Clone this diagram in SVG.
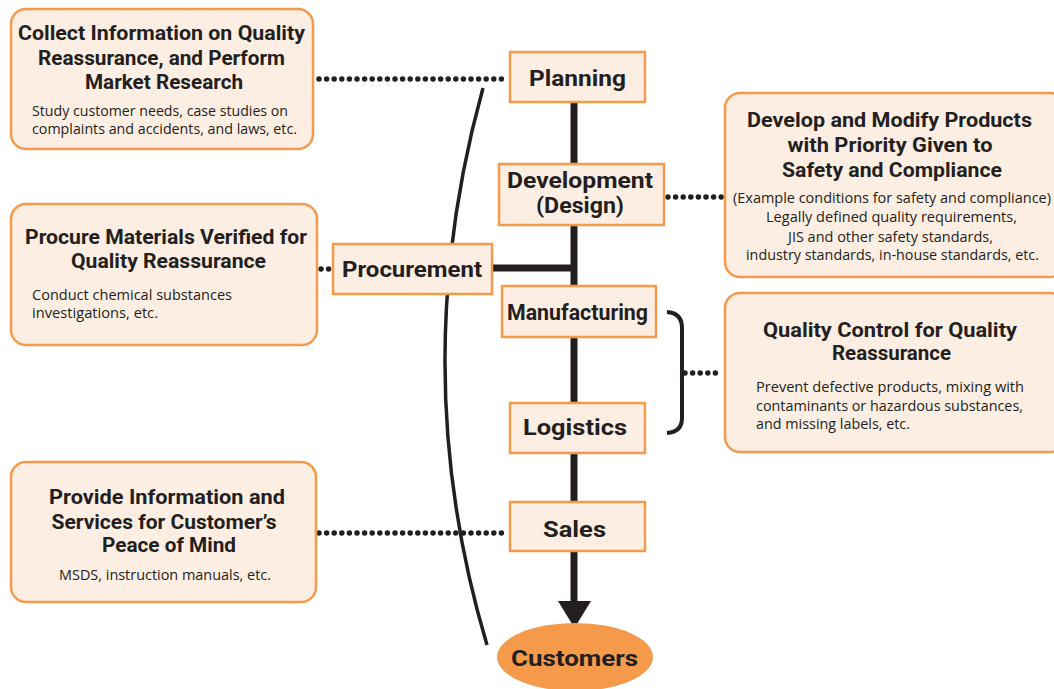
<svg xmlns="http://www.w3.org/2000/svg" width="1054" height="689" viewBox="0 0 1054 689">
<defs>
<style>
.box{fill:#fdeee3;stroke:#f59a4c;stroke-width:2.5}
.h{font-family:Roboto,"Liberation Sans",sans-serif;font-weight:700;font-size:20px;fill:#231f20;text-anchor:middle}
.s{font-family:"Open Sans","Noto Sans","Liberation Sans",sans-serif;font-size:14.5px;fill:#231f20}
.l{font-family:Roboto,"Liberation Sans",sans-serif;font-weight:700;font-size:22px;fill:#231f20;text-anchor:middle}
.dot{fill:none;stroke:#231f20;stroke-width:5.5;stroke-linecap:round;stroke-dasharray:0 7.6}
.spine{fill:none;stroke:#231f20;stroke-width:7}
</style>
</defs>

<g id="connectors">
<line class="spine" x1="574" y1="102" x2="574" y2="603"/>
<line class="spine" x1="492" y1="268" x2="577" y2="268"/>
<polygon points="558,601 591,601 574.5,628" fill="#231f20"/>
<path d="M483,88 Q405,370 487,645" fill="none" stroke="#231f20" stroke-width="3.5"/>
<path d="M667,312 Q682,313 682,328 L682,418 Q682,432 667,433" fill="none" stroke="#231f20" stroke-width="4"/>
<line class="dot" x1="319" y1="79" x2="506" y2="79"/>
<line class="dot" x1="668" y1="197" x2="722" y2="197"/>
<line class="dot" x1="685" y1="373" x2="722" y2="373"/>
<line class="dot" x1="319" y1="533" x2="507" y2="533"/>
<line class="dot" x1="321" y1="269" x2="330" y2="269"/>
</g>

<g id="collect">
<rect class="box" x="11" y="9" width="302" height="140" rx="15"/>
<text class="h" x="161.5" y="40" textLength="287" lengthAdjust="spacingAndGlyphs">Collect Information on Quality</text>
<text class="h" x="161.5" y="65" textLength="247" lengthAdjust="spacingAndGlyphs">Reassurance, and Perform</text>
<text class="h" x="164" y="89" textLength="158" lengthAdjust="spacingAndGlyphs">Market Research</text>
<text class="s" x="32" y="116" textLength="256" lengthAdjust="spacingAndGlyphs">Study customer needs, case studies on</text>
<text class="s" x="32" y="134" textLength="265" lengthAdjust="spacingAndGlyphs">complaints and accidents, and laws, etc.</text>
</g>

<g id="procure-info">
<rect class="box" x="11" y="204" width="306" height="141" rx="15"/>
<text class="h" x="166" y="244" textLength="282" lengthAdjust="spacingAndGlyphs">Procure Materials Verified for</text>
<text class="h" x="168.5" y="268" textLength="195" lengthAdjust="spacingAndGlyphs">Quality Reassurance</text>
<text class="s" x="32" y="300" textLength="200" lengthAdjust="spacingAndGlyphs">Conduct chemical substances</text>
<text class="s" x="32" y="318" textLength="126" lengthAdjust="spacingAndGlyphs">investigations, etc.</text>
</g>

<g id="provide-info">
<rect class="box" x="11" y="462" width="305" height="140" rx="15"/>
<text class="h" x="167" y="504" textLength="236" lengthAdjust="spacingAndGlyphs">Provide Information and</text>
<text class="h" x="164" y="529" textLength="225" lengthAdjust="spacingAndGlyphs">Services for Customer’s</text>
<text class="h" x="169" y="552" textLength="134" lengthAdjust="spacingAndGlyphs">Peace of Mind</text>
<text class="s" x="165" y="580" text-anchor="middle" textLength="212" lengthAdjust="spacingAndGlyphs">MSDS, instruction manuals, etc.</text>
</g>

<g id="develop-info">
<rect class="box" x="725" y="93" width="340" height="184" rx="15"/>
<text class="h" x="889.5" y="127" textLength="285" lengthAdjust="spacingAndGlyphs">Develop and Modify Products</text>
<text class="h" x="890" y="152" textLength="205" lengthAdjust="spacingAndGlyphs">with Priority Given to</text>
<text class="h" x="892" y="177" textLength="220" lengthAdjust="spacingAndGlyphs">Safety and Compliance</text>
<text class="s" x="892" y="203" text-anchor="middle" textLength="318" lengthAdjust="spacingAndGlyphs">(Example conditions for safety and compliance)</text>
<text class="s" x="891.5" y="222" text-anchor="middle" textLength="251" lengthAdjust="spacingAndGlyphs">Legally defined quality requirements,</text>
<text class="s" x="890.5" y="242" text-anchor="middle" textLength="205" lengthAdjust="spacingAndGlyphs">JIS and other safety standards,</text>
<text class="s" x="892.5" y="260" text-anchor="middle" textLength="293" lengthAdjust="spacingAndGlyphs">industry standards, in-house standards, etc.</text>
</g>

<g id="qc-info">
<rect class="box" x="725" y="293" width="340" height="159" rx="15"/>
<text class="h" x="890" y="337" textLength="254" lengthAdjust="spacingAndGlyphs">Quality Control for Quality</text>
<text class="h" x="891.5" y="360" textLength="119" lengthAdjust="spacingAndGlyphs">Reassurance</text>
<text class="s" x="756" y="392" textLength="268" lengthAdjust="spacingAndGlyphs">Prevent defective products, mixing with</text>
<text class="s" x="756" y="411" textLength="267" lengthAdjust="spacingAndGlyphs">contaminants or hazardous substances,</text>
<text class="s" x="756" y="429" textLength="154" lengthAdjust="spacingAndGlyphs">and missing labels, etc.</text>
</g>

<g id="planning">
<rect class="box" x="510" y="52" width="135" height="50"/>
<text class="l" x="577.5" y="86" textLength="97" lengthAdjust="spacingAndGlyphs">Planning</text>
</g>

<g id="development">
<rect class="box" x="499" y="164" width="165" height="61"/>
<text class="l" x="580" y="188" textLength="146" lengthAdjust="spacingAndGlyphs">Development</text>
<text class="l" x="580" y="213" textLength="88" lengthAdjust="spacingAndGlyphs">(Design)</text>
</g>

<g id="procurement">
<rect class="box" x="333" y="244" width="159" height="50"/>
<text class="l" x="412" y="277" textLength="140" lengthAdjust="spacingAndGlyphs">Procurement</text>
</g>

<g id="manufacturing">
<rect class="box" x="502" y="286" width="154" height="51"/>
<text class="l" x="577.5" y="320" textLength="141" lengthAdjust="spacingAndGlyphs">Manufacturing</text>
</g>

<g id="logistics">
<rect class="box" x="510" y="403" width="135" height="50"/>
<text class="l" x="575" y="435" textLength="104" lengthAdjust="spacingAndGlyphs">Logistics</text>
</g>

<g id="sales">
<rect class="box" x="510" y="502" width="135" height="49"/>
<text class="l" x="574.5" y="537" textLength="63" lengthAdjust="spacingAndGlyphs">Sales</text>
</g>

<g id="customers">
<ellipse cx="575" cy="657" rx="78" ry="34" fill="#f5994a"/>
<text class="l" x="574.5" y="666" textLength="127" lengthAdjust="spacingAndGlyphs">Customers</text>
</g>
</svg>
